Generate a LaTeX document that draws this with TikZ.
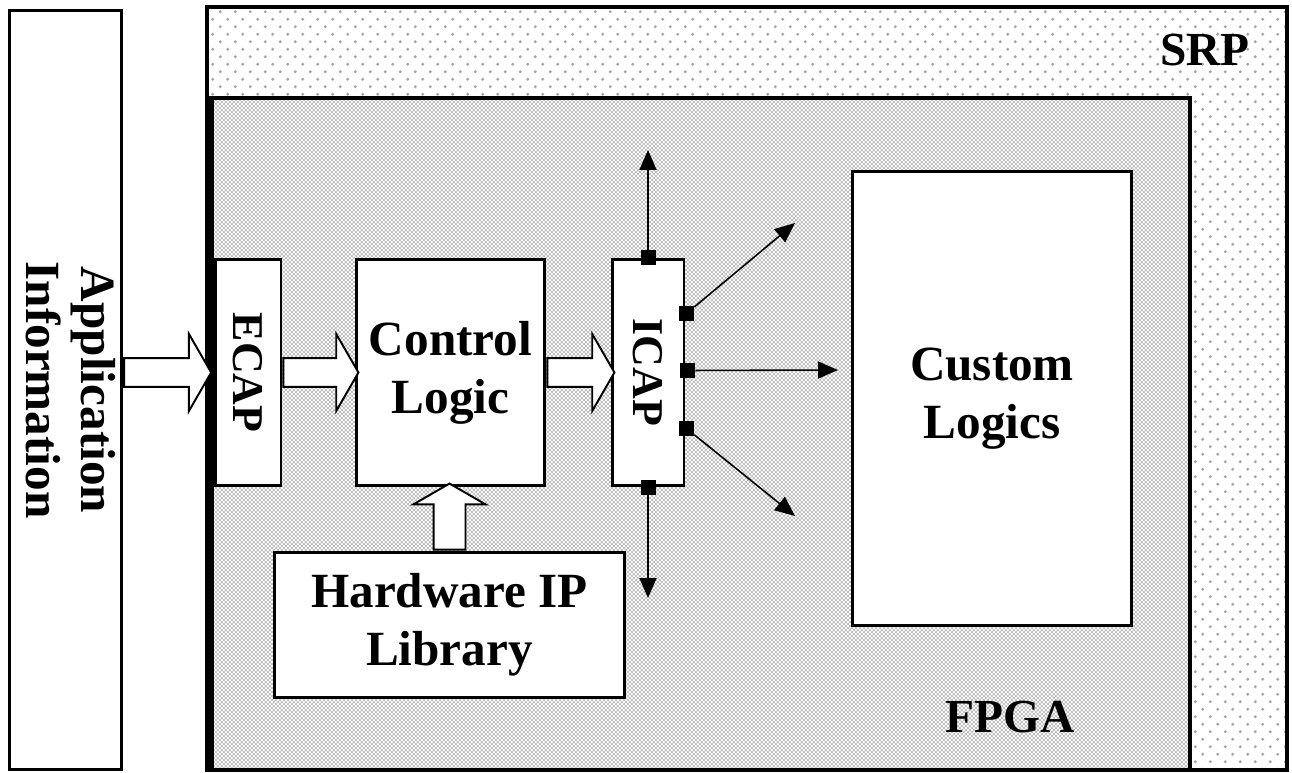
\documentclass[tikz,border=0pt]{standalone}
\usepackage{graphicx}
\usepackage{fontspec}
\setmainfont{Liberation Serif}
\usetikzlibrary{positioning, arrows.meta, shapes.arrows, patterns, calc}

% dotted fill of the SRP area
\pgfdeclarepatternformonly{srpdots}{\pgfpointorigin}{\pgfpoint{0.3cm}{0.3cm}}{\pgfpoint{0.3cm}{0.3cm}}{%
  \pgfpathcircle{\pgfpoint{0.075cm}{0.075cm}}{0.034cm}%
  \pgfpathcircle{\pgfpoint{0.225cm}{0.225cm}}{0.034cm}%
  \pgfusepath{fill}}
% fine checker fill of the FPGA area
\pgfdeclarepatternformonly{fpgacheck}{\pgfpointorigin}{\pgfpoint{0.08cm}{0.08cm}}{\pgfpoint{0.08cm}{0.08cm}}{%
  \pgfpathrectangle{\pgfpointorigin}{\pgfpoint{0.04cm}{0.04cm}}%
  \pgfpathrectangle{\pgfpoint{0.04cm}{0.04cm}}{\pgfpoint{0.04cm}{0.04cm}}%
  \pgfusepath{fill}}

\begin{document}
\begin{tikzpicture}[
                x=0.02cm, y=-0.02cm,
                >={Triangle[length=0.4cm, width=0.34cm]},
                box/.style={draw, line width=1.7pt, fill=white, inner sep=0pt, align=center,
                    font=\fontsize{28}{33}\selectfont\bfseries},
                tallbox/.style={box, minimum height=4.54cm, font=\fontsize{25}{30}\selectfont\bfseries},
                regiontext/.style={font=\fontsize{27}{32}\selectfont\bfseries},
                port/.style={fill=black, minimum size=0.3cm, inner sep=0pt},
                bigarrow/.style={single arrow, draw, line width=1.1pt, fill=white, inner xsep=0pt,
                    single arrow tip angle=120, single arrow head indent=0pt, anchor=tail},
                link/.style={->, line width=0.9pt},
            ]
                \useasboundingbox (0,0) rectangle (1292,773);

                % Draw the SRP and FPGA areas
                \draw[line width=1.8pt, preaction={fill=white}, pattern=srpdots, pattern color=black!35]
                    (207,7) rectangle (1287,770);
                \draw[line width=1.8pt, preaction={fill=white}, pattern=fpgacheck, pattern color=black!25]
                    (210,98) rectangle (1190,770);
                \draw[line width=4pt] (210,98) -- (210,770);
                \node[regiontext] (srp) at (1205,50) {SRP};
                \node[regiontext] (fpga) at (1010,717) {FPGA};

                % Draw the blocks
                \node[box, minimum width=2.22cm, minimum height=15.2cm] (app) at (65.5,390)
                    {\rotatebox{-90}{\begin{tabular}{@{}c@{}}Application\\[-2pt]Information\end{tabular}}};
                \node[tallbox, minimum width=1.32cm] (ecap) at (248,372.5) {\rotatebox{-90}{ECAP}};
                \node[box, minimum width=3.78cm, minimum height=4.54cm] (ctrl) at (450.5,372.5) {Control\\Logic};
                \node[tallbox, minimum width=1.44cm] (icap) at (648,372.5) {\rotatebox{-90}{ICAP}};
                \node[box, minimum width=7.02cm, minimum height=2.92cm] (hwip) at (449.5,625) {Hardware IP\\Library};
                \node[box, minimum width=5.6cm, minimum height=9.1cm] (custom) at (992,398.5) {Custom\\Logics};

                % Draw the block arrows between the blocks
                \node[bigarrow, inner ysep=0.27cm, single arrow head extend=0.48cm, minimum height=1.74cm]
                    (a-app) at (app.east |- ecap.west) {};
                \node[bigarrow, inner ysep=0.27cm, single arrow head extend=0.48cm, minimum height=1.5cm]
                    (a-ecap) at (ecap.east) {};
                \node[bigarrow, inner ysep=0.27cm, single arrow head extend=0.48cm, minimum height=1.34cm]
                    (a-ctrl) at (ctrl.east) {};
                \node[bigarrow, rotate=90, inner ysep=0.3cm, single arrow head extend=0.4cm, minimum height=1.32cm]
                    (a-hwip) at (hwip.north) {};

                % Draw the ports of the ICAP
                \node[port] (p-top) at (icap.north) {};
                \node[port] (p-bot) at (icap.south) {};
                \node[port] (p-r1) at ($(icap.east)+(1,-59)$) {};
                \node[port] (p-r2) at ($(icap.east)+(2,-2)$) {};
                \node[port] (p-r3) at ($(icap.east)+(1,56)$) {};

                % Free ends of the ICAP outputs
                \coordinate (o-top) at (648,150);
                \coordinate (o-bot) at (648,598);
                \coordinate (o-r1) at (795,223);
                \coordinate (o-r2) at (838,370);
                \coordinate (o-r3) at (795,516);

                % Connect every port with its output
                \foreach \name in {top,bot,r1,r2,r3}
                    \draw[link] (p-\name) -- (o-\name);
            \end{tikzpicture}
\end{document}
